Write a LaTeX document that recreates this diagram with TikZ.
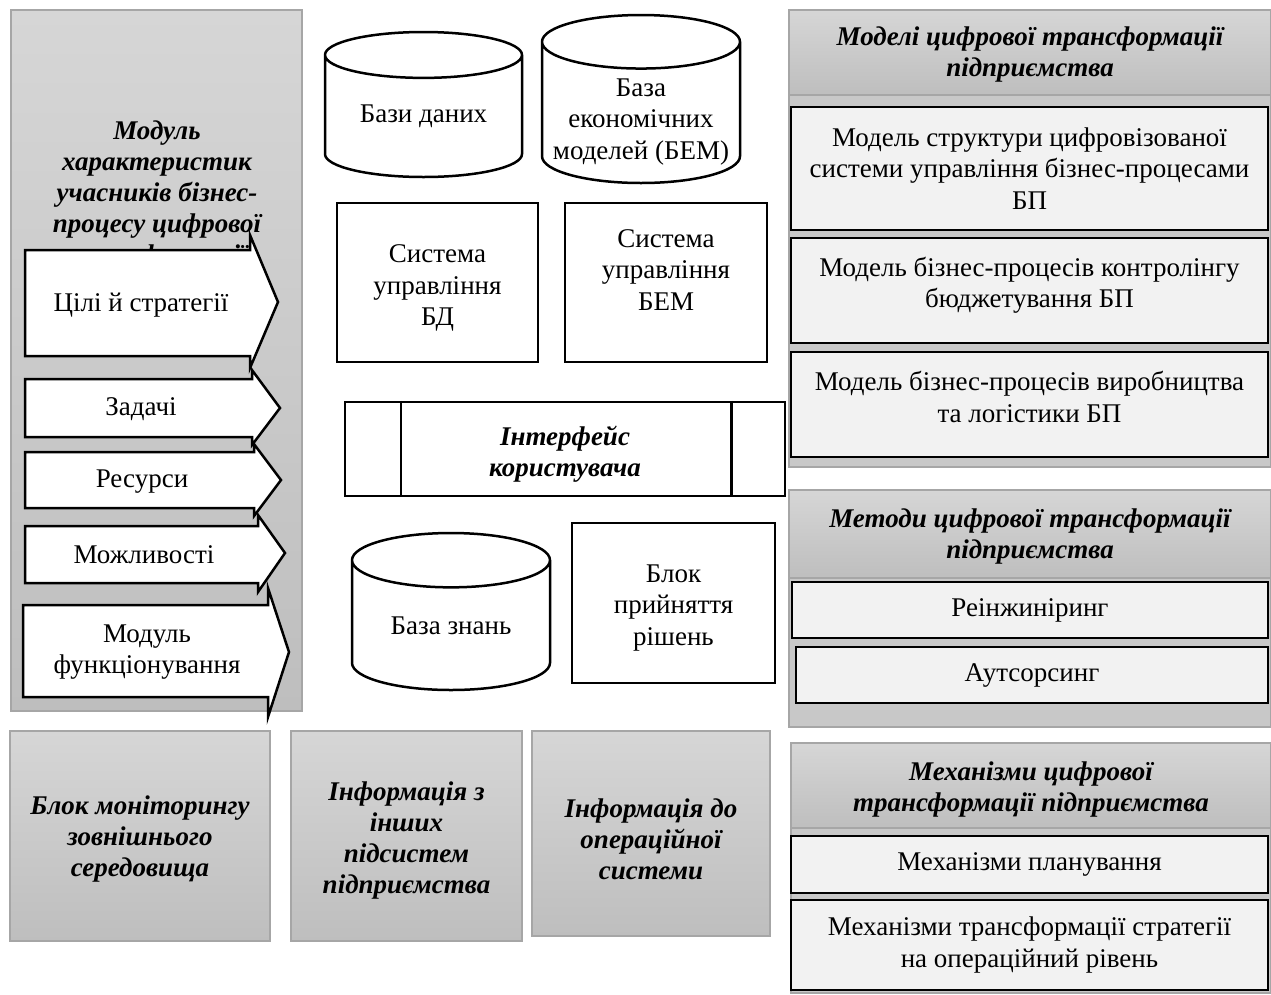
\documentclass[tikz,border=0pt]{standalone}
\usepackage{fontspec}
\setmainfont{Liberation Serif}
\usetikzlibrary{shapes.geometric}
\usetikzlibrary{positioning}
\definecolor{panelline}{HTML}{A6A6A6}
\definecolor{shadetop}{HTML}{D6D6D6}
\definecolor{shadebottom}{HTML}{BEBEBE}
\definecolor{panelbody}{HTML}{C8C8C8}
\definecolor{itemfill}{HTML}{F2F2F2}
\tikzstyle{panel}=[rectangle,draw=panelline,line width=1.2pt,inner sep=0pt]
\tikzstyle{shaded}=[panel,top color=shadetop,bottom color=shadebottom]
\tikzstyle{heading}=[font=\bfseries\itshape\fontsize{27}{31}\selectfont,align=center]
\tikzstyle{plain}=[font=\fontsize{27}{31.5}\selectfont,align=center]
\tikzstyle{item}=[rectangle,draw=black,fill=itemfill,line width=2.5pt,plain,inner sep=0pt]
\tikzstyle{block}=[rectangle,draw=black,fill=white,line width=2.5pt,plain,inner sep=0pt]
\tikzstyle{store}=[cylinder,shape border rotate=90,draw=black,fill=white,line width=2.5pt,plain,inner sep=0pt,anchor=shape center]
\tikzstyle{stage}=[draw=black,fill=white,line width=2.5pt,line join=miter]

\begin{document}
\begin{tikzpicture}[x=1pt,y=-1pt]
    \useasboundingbox (0,0) rectangle (1271,994);
    % left module with the stage arrows
    \node[shaded,minimum width=291,minimum height=701] (charpanel) at (156.5,360.5) {};
    \node[heading] (chartitle) at (157,195) {Модуль\\характеристик\\учасників бізнес-\\процесу цифрової\\трансформації};
    \draw[stage] (25,250) -- (250,250) -- (250,235) -- (278,302) -- (250,368) -- (250,356) -- (25,356) -- cycle;
    \draw[stage] (25,379) -- (252,379) -- (252,370) -- (280,408) -- (252,445) -- (252,437) -- (25,437) -- cycle;
    \draw[stage] (25,452) -- (254,452) -- (254,444) -- (281,480) -- (254,516) -- (254,508) -- (25,508) -- cycle;
    \draw[stage] (25,526) -- (258,526) -- (258,515) -- (285,553) -- (258,592) -- (258,583) -- (25,583) -- cycle;
    \draw[stage] (23,605) -- (268,605) -- (268,588) -- (289,652) -- (268,717) -- (268,697) -- (23,697) -- cycle;
    \node[plain] (goals) at (141,305) {Цілі й стратегії};
    \node[plain] (tasks) at (141,409) {Задачі};
    \node[plain] (resources) at (142,482) {Ресурси};
    \node[plain] (abilities) at (144,555) {Можливості};
    \node[plain] (operation) at (147,652) {Модуль\\функціонування};
    % centre column
    \node[store,minimum width=197,minimum height=145,aspect=0.36] (dbstore) at (423.5,104.5) {Бази даних};
    \node[store,minimum width=198,minimum height=168,aspect=0.42] (bemstore) at (641,99) {\phantom{Бази даних}};
    \node[plain] (bemstoretext) at (641,122) {База\\економічних\\моделей (БЕМ)};
    \node[block,minimum width=201,minimum height=159] (dbms) at (437.5,282.5) {};
    \node[plain] (dbmstext) at (437.5,288) {Система\\управління\\БД};
    \node[block,minimum width=202,minimum height=159] (bemms) at (666,282.5) {};
    \node[plain] (bemmstext) at (666,270) {Система\\управління\\БЕМ};
    \node[block,minimum width=440,minimum height=94] (uiface) at (565,449) {};
    \node[heading] (uifacetext) at (565,454) {Інтерфейс\\користувача};
    \draw[line width=2.5pt] ([xshift=57pt]uiface.north west) -- ([xshift=57pt]uiface.south west);
    \draw[line width=2.5pt] ([xshift=-55pt]uiface.north east) -- ([xshift=-55pt]uiface.south east);
    \node[store,minimum width=198,minimum height=157,aspect=0.45] (kbstore) at (451,611.5) {База знань};
    \node[block,minimum width=203,minimum height=160] (decision) at (673.5,603) {};
    \node[plain] (decisiontext) at (673.5,608) {Блок\\прийняття\\рішень};
    % bottom row
    \node[shaded,minimum width=260,minimum height=210] (monitor) at (140,836) {};
    \node[heading] (monitortext) at (140,839) {Блок моніторингу\\зовнішнього\\середовища};
    \node[shaded,minimum width=231,minimum height=210] (otherinfo) at (406.5,836) {};
    \node[heading] (otherinfotext) at (406.5,840) {Інформація з\\інших\\підсистем\\підприємства};
    \node[shaded,minimum width=238,minimum height=205] (opinfo) at (651,833.5) {};
    \node[heading] (opinfotext) at (651,839) {Інформація до\\операційної\\системи};
    % right column: models
    \node[panel,fill=panelbody,minimum width=482,minimum height=457] (modelpanel) at (1030,238.5) {};
    \node[shaded,minimum width=482,minimum height=85] (modelhead) at (1030,52.5) {};
    \node[heading] (modeltitle) at (1030,55) {Моделі цифрової трансформації\\підприємства};
    \node[item,minimum width=477,minimum height=123] (model1) at (1029.5,168.5) {Модель структури цифровізованої\\системи управління бізнес-процесами\\БП};
    \node[item,minimum width=477,minimum height=105] (model2) at (1029.5,290.5) {};
    \node[plain] (model2text) at (1029.5,285) {Модель бізнес-процесів контролінгу\\бюджетування БП};
    \node[item,minimum width=477,minimum height=105] (model3) at (1029.5,404.5) {};
    \node[plain] (model3text) at (1029.5,397) {Модель бізнес-процесів виробництва\\та логістики БП};
    % right column: methods
    \node[panel,fill=panelbody,minimum width=482,minimum height=237] (methodpanel) at (1030,608.5) {};
    \node[shaded,minimum width=482,minimum height=88] (methodhead) at (1030,534) {};
    \node[heading] (methodtitle) at (1030,536) {Методи цифрової трансформації\\підприємства};
    \node[item,minimum width=476,minimum height=56] (reeng) at (1030,610) {Реінжиніринг};
    \node[item,minimum width=472,minimum height=56] (outsource) at (1032,675) {Аутсорсинг};
    % right column: mechanisms
    \node[panel,fill=panelbody,minimum width=480,minimum height=250] (mechpanel) at (1031,868) {};
    \node[shaded,minimum width=480,minimum height=85] (mechhead) at (1031,785.5) {};
    \node[heading] (mechtitle) at (1031,789) {Механізми цифрової\\трансформації підприємства};
    \node[item,minimum width=477,minimum height=57] (planning) at (1029.5,864.5) {Механізми планування};
    \node[item,minimum width=477,minimum height=90] (stratops) at (1029.5,945) {Механізми трансформації стратегії\\на операційний рівень};
\end{tikzpicture}
\end{document}
